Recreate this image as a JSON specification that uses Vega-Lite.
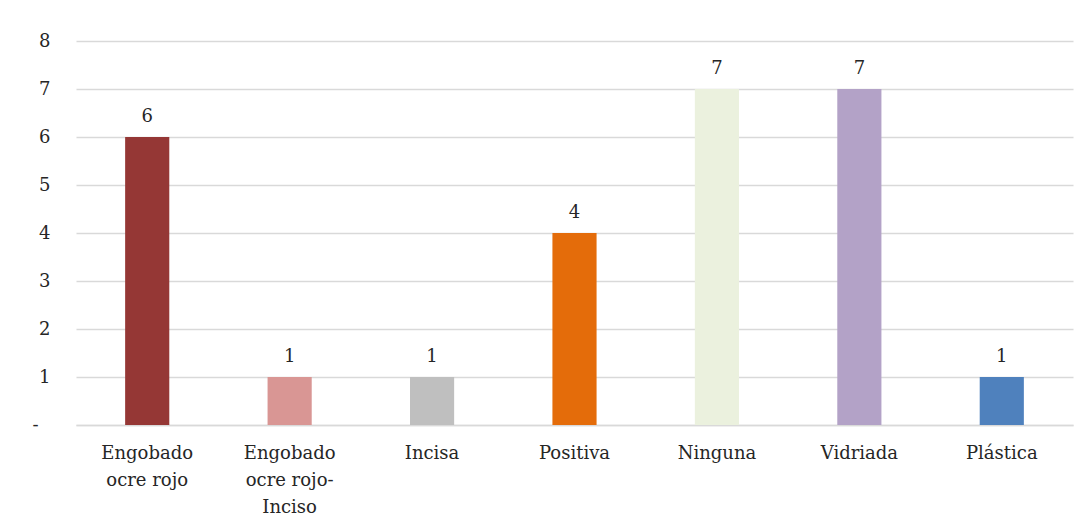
{
  "$schema": "https://vega.github.io/schema/vega-lite/v6.json",
  "width": 997,
  "height": 384,
  "autosize": {"type": "none"},
  "padding": {"left": 76, "top": 41, "right": 16, "bottom": 103},
  "background": "white",
  "config": {
    "view": {"stroke": null},
    "font": "DejaVu Serif",
    "text": {"font": "DejaVu Serif"}
  },
  "data": {
    "values": [
      {"cat": "Engobado ocre rojo", "n": 6, "color": "#953735"},
      {"cat": "Engobado ocre rojo-Inciso", "n": 1, "color": "#d99694"},
      {"cat": "Incisa", "n": 1, "color": "#bfbfbf"},
      {"cat": "Positiva", "n": 4, "color": "#e46c0a"},
      {"cat": "Ninguna", "n": 7, "color": "#ebf1de"},
      {"cat": "Vidriada", "n": 7, "color": "#b3a2c7"},
      {"cat": "Plástica", "n": 1, "color": "#4f81bd"}
    ]
  },
  "encoding": {
    "x": {
      "field": "cat",
      "type": "nominal",
      "sort": null,
      "scale": {"paddingInner": 0.69, "paddingOuter": 0.345},
      "axis": {
        "title": null,
        "labelAngle": 0,
        "labelFont": "DejaVu Serif",
        "labelFontSize": 18,
        "labelColor": "#262626",
        "labelLineHeight": 27,
        "labelPadding": 19,
        "labelLimit": 300,
        "ticks": false,
        "domainColor": "#d9d9d9",
        "domainWidth": 1.5,
        "labelExpr": "datum.label == 'Engobado ocre rojo' ? ['Engobado', 'ocre rojo'] : datum.label == 'Engobado ocre rojo-Inciso' ? ['Engobado', 'ocre rojo-', 'Inciso'] : datum.label"
      }
    },
    "y": {
      "field": "n",
      "type": "quantitative",
      "scale": {"domain": [0, 8]},
      "axis": {
        "title": null,
        "values": [0, 1, 2, 3, 4, 5, 6, 7, 8],
        "labelFont": "DejaVu Serif",
        "labelFontSize": 18,
        "labelColor": "#262626",
        "labelPadding": {"condition": {"test": "datum.value == 0", "value": 38}, "value": 26},
        "ticks": false,
        "domain": false,
        "gridColor": "#d9d9d9",
        "gridWidth": 1.5,
        "labelExpr": "datum.value == 0 ? '-' : datum.label"
      }
    }
  },
  "layer": [
    {
      "mark": {"type": "bar"},
      "encoding": {
        "color": {"field": "color", "type": "nominal", "scale": null}
      }
    },
    {
      "mark": {"type": "text", "baseline": "bottom", "dy": -11, "fontSize": 18, "font": "DejaVu Serif", "color": "#262626"},
      "encoding": {"text": {"field": "n", "type": "quantitative"}}
    }
  ]
}
